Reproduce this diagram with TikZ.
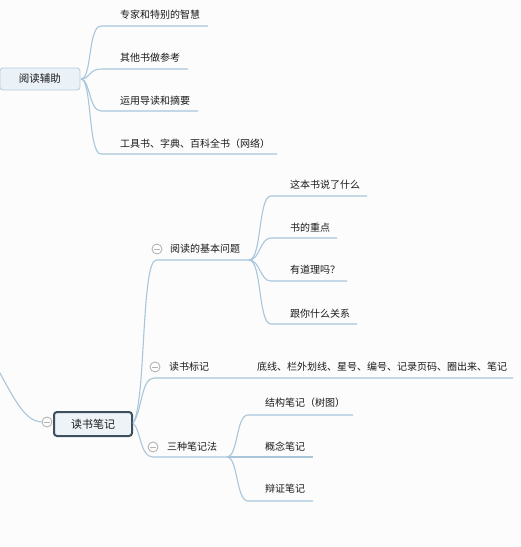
\documentclass[tikz,border=0pt]{standalone}
\usepackage{fontspec}
\setmainfont{Noto Sans CJK SC}
\definecolor{bgc}{HTML}{FCFCFC}
\definecolor{linec}{HTML}{A9C6DA}
\definecolor{txtc}{HTML}{1A1A1A}
\definecolor{boxfill}{HTML}{EAF1F7}
\definecolor{boxedge}{HTML}{B5CCDF}
\definecolor{rootedge}{HTML}{3E505E}
\definecolor{rootfill}{HTML}{EEF3F7}
\definecolor{circc}{HTML}{B4B4B4}
\begin{document}
\begin{tikzpicture}[x=1pt,y=-1pt,
  lbl/.style={anchor=west,inner sep=0pt,text=txtc,font=\fontsize{10}{12}\selectfont},
  conn/.style={draw=linec,line width=1.1pt},
  topbox/.style={draw=boxedge,fill=boxfill,rounded corners=3pt,line width=0.8pt,minimum width=80pt,minimum height=22pt,inner sep=0pt,text=txtc,font=\fontsize{10.5}{12}\selectfont},
  rootbox/.style={draw=rootedge,fill=rootfill,rounded corners=3pt,line width=2pt,minimum width=78pt,minimum height=24pt,inner sep=0pt,text=txtc,font=\fontsize{11}{13}\selectfont},
  foldc/.style={circle,draw=circc,fill=white,line width=0.9pt,minimum size=10pt,inner sep=0pt,
    path picture={\draw[circc,line width=0.9pt] ([xshift=-3pt]path picture bounding box.center) -- ([xshift=3pt]path picture bounding box.center);}}
]
\fill[bgc] (0,0) rectangle (521,547);
\useasboundingbox (0,0) rectangle (521,547);

% ---- top group
\node[topbox] (fz) at (40,79) {阅读辅助};
\coordinate (fzr) at (81,79);
\node[lbl] (a1) at (120,15) {专家和特别的智慧};
\node[lbl] (a2) at (120,58) {其他书做参考};
\node[lbl] (a3) at (120,101) {运用导读和摘要};
\node[lbl] (a4) at (120,144) {工具书、字典、百科全书（网络）};
\coordinate (a1s) at (101,26); \coordinate (a1e) at (208,26);
\coordinate (a2s) at (101,69); \coordinate (a2e) at (188,69);
\coordinate (a3s) at (101,111); \coordinate (a3e) at (198,111);
\coordinate (a4s) at (101,154); \coordinate (a4e) at (277,154);
\draw[conn] (fzr) .. controls (92,79) and (88,26) .. (a1s) -- (a1e);
\draw[conn] (fzr) .. controls (90,79) and (89,69) .. (a2s) -- (a2e);
\draw[conn] (fzr) .. controls (90,79) and (89,111) .. (a3s) -- (a3e);
\draw[conn] (fzr) .. controls (92,79) and (88,154) .. (a4s) -- (a4e);

% ---- lower group
\coordinate (par) at (-4,366);
\node[foldc] (rc) at (47,422) {};
\draw[conn] (par) .. controls (14,398) and (24,421) .. (rc.west);
\node[rootbox] (root) at (93,424) {读书笔记};
\coordinate (rr) at (133,423);

% branch 1
\node[foldc] (c1) at (157,249) {};
\node[lbl] (b1) at (170,249) {阅读的基本问题};
\coordinate (b1s) at (156,260); \coordinate (b1e) at (249,260);
\draw[conn] (rr) .. controls (146,405) and (141,262) .. (b1s) -- (b1e);
\node[lbl] (d1) at (290,185) {这本书说了什么};
\node[lbl] (d2) at (290,228) {书的重点};
\node[lbl] (d3) at (290,270) {有道理吗？};
\node[lbl] (d4) at (290,314) {跟你什么关系};
\coordinate (d1s) at (271,196); \coordinate (d1e) at (367,196);
\coordinate (d2s) at (271,238); \coordinate (d2e) at (337,238);
\coordinate (d3s) at (271,281); \coordinate (d3e) at (347,281);
\coordinate (d4s) at (271,324); \coordinate (d4e) at (357,324);
\draw[conn] (b1e) .. controls (262,260) and (258,196) .. (d1s) -- (d1e);
\draw[conn] (b1e) .. controls (260,260) and (260,238) .. (d2s) -- (d2e);
\draw[conn] (b1e) .. controls (260,260) and (260,281) .. (d3s) -- (d3e);
\draw[conn] (b1e) .. controls (262,260) and (258,324) .. (d4s) -- (d4e);

% branch 2
\node[foldc] (c2) at (155,367) {};
\node[lbl] (b2) at (169,367) {读书标记};
\node[lbl] (e1) at (257,367) {底线、栏外划线、星号、编号、记录页码、圈出来、笔记};
\coordinate (b2s) at (154,378); \coordinate (b2e) at (513,378);
\draw[conn] (rr) .. controls (142,412) and (141,378) .. (b2s) -- (b2e);

% branch 3
\node[foldc] (c3) at (153,447) {};
\node[lbl] (b3) at (167,447) {三种笔记法};
\coordinate (b3s) at (153,457); \coordinate (b3e) at (227,457);
\draw[conn] (rr) .. controls (141,430) and (140,457) .. (b3s) -- (b3e);
\node[lbl] (f1) at (265,403) {结构笔记（树图）};
\node[lbl] (f2) at (265,447) {概念笔记};
\node[lbl] (f3) at (265,489) {辩证笔记};
\coordinate (f1s) at (248,415); \coordinate (f1e) at (353,415);
\coordinate (f2e) at (313,457);
\coordinate (f3s) at (248,501); \coordinate (f3e) at (313,501);
\draw[conn] (b3e) .. controls (238,457) and (236,415) .. (f1s) -- (f1e);
\draw[conn] (b3e) -- (f2e);
\draw[conn] (b3e) .. controls (238,457) and (236,501) .. (f3s) -- (f3e);
\end{tikzpicture}
\end{document}
